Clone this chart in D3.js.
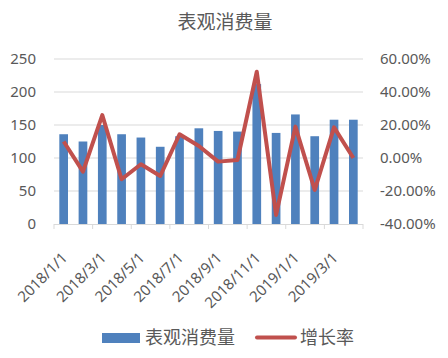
<!DOCTYPE html>
<html><head><meta charset="utf-8">
<script src="https://cdn.jsdelivr.net/npm/d3@7"></script>
<style>body{margin:0;background:#fff;}svg{display:block;font-family:"Noto Sans CJK SC","Noto Sans",sans-serif;}</style>
</head><body>
<svg id="c" width="448" height="358"></svg>
<script>
const categories = ["2018/1/1","2018/2/1","2018/3/1","2018/4/1","2018/5/1","2018/6/1","2018/7/1","2018/8/1","2018/9/1","2018/10/1","2018/11/1","2018/12/1","2019/1/1","2019/2/1","2019/3/1","2019/4/1"];
const consumption = [136,125,150,136,131,117,133,145,141,140,212,138,166,133,158,158];
const growth = [0.10,-0.083,0.26,-0.129,-0.038,-0.109,0.144,0.073,-0.022,-0.012,0.523,-0.345,0.19,-0.194,0.186,0.0];
const leftTicks = [0,50,100,150,200,250];
const rightTicks = [-0.4,-0.2,0,0.2,0.4,0.6];
const title = "表观消费量";
const seriesNames = ["表观消费量","增长率"];

const svg = d3.select("#c");
const L = 54, R = 363, T = 59, B = 224;
const x = d3.scaleBand().domain(categories).range([L, R]).paddingInner(0.55).paddingOuter(0.275);
const xc = d3.scaleBand().domain(categories).range([L, R]);
const yL = d3.scaleLinear().domain([0,250]).range([B, T]);
const yR = d3.scaleLinear().domain([-0.4,0.6]).range([B, T]);
const txt = "#595959";
const numFont = "Noto Sans, sans-serif";

svg.append("text").attr("x",225).attr("y",29).attr("text-anchor","middle")
  .attr("fill",txt).attr("font-size",19).text(title);

// gridlines
svg.append("g").selectAll("line").data(leftTicks.filter(d=>d>0)).join("line")
  .attr("x1",L).attr("x2",R).attr("y1",d=>yL(d)).attr("y2",d=>yL(d))
  .attr("stroke","#d9d9d9").attr("stroke-width",1);

// left axis
const gl = svg.append("g").attr("transform",`translate(${L},0)`)
  .call(d3.axisLeft(yL).tickValues(leftTicks).tickSize(0).tickPadding(18));
gl.select(".domain").remove();
gl.selectAll("text").attr("fill",txt).attr("font-size",15).attr("font-family",numFont);

// right axis
const gr = svg.append("g").attr("transform",`translate(${R},0)`)
  .call(d3.axisRight(yR).tickValues(rightTicks).tickSize(0).tickPadding(17).tickFormat(d=>(d*100).toFixed(2)+"%"));
gr.select(".domain").remove();
gr.selectAll("text").attr("fill",txt).attr("font-size",15).attr("font-family",numFont);

// bars
svg.append("g").selectAll("rect").data(consumption).join("rect")
  .attr("x",(d,i)=>x(categories[i])).attr("width",x.bandwidth())
  .attr("y",d=>yL(d)).attr("height",d=>B-yL(d)).attr("fill","#4f81bd");

// x axis line and ticks
svg.append("line").attr("x1",L).attr("x2",R).attr("y1",B+0.5).attr("y2",B+0.5).attr("stroke","#d9d9d9");
const tickPos = categories.filter((c,i)=>i%2===0).map(c=>xc(c)).concat([R]);
svg.append("g").selectAll("line").data(tickPos).join("line")
  .attr("x1",d=>d).attr("x2",d=>d).attr("y1",B).attr("y2",B+5).attr("stroke","#d9d9d9");

// x labels
svg.append("g").selectAll("text").data(categories.filter((c,i)=>i%2===0)).join("text")
  .attr("transform",d=>`translate(${xc(d)+xc.bandwidth()/2+1},${B+31}) rotate(-45)`)
  .attr("text-anchor","end").attr("dy","0.35em").attr("fill",txt).attr("font-size",15)
  .attr("font-family",numFont).text(d=>d);

// line
const line = d3.line().x((d,i)=>xc(categories[i])+xc.bandwidth()/2).y(d=>yR(d));
svg.append("path").datum(growth).attr("d",line).attr("fill","none")
  .attr("stroke","#c0504d").attr("stroke-width",4).attr("stroke-linejoin","round");

// legend
svg.append("rect").attr("x",102).attr("y",333).attr("width",38).attr("height",10).attr("fill","#4f81bd");
svg.append("text").attr("x",145).attr("y",344).attr("fill",txt).attr("font-size",18).text(seriesNames[0]);
svg.append("line").attr("x1",257).attr("x2",295).attr("y1",337.5).attr("y2",337.5).attr("stroke","#c0504d").attr("stroke-width",4).attr("stroke-linecap","round");
svg.append("text").attr("x",300).attr("y",344).attr("fill",txt).attr("font-size",18).text(seriesNames[1]);
</script>
</body></html>
